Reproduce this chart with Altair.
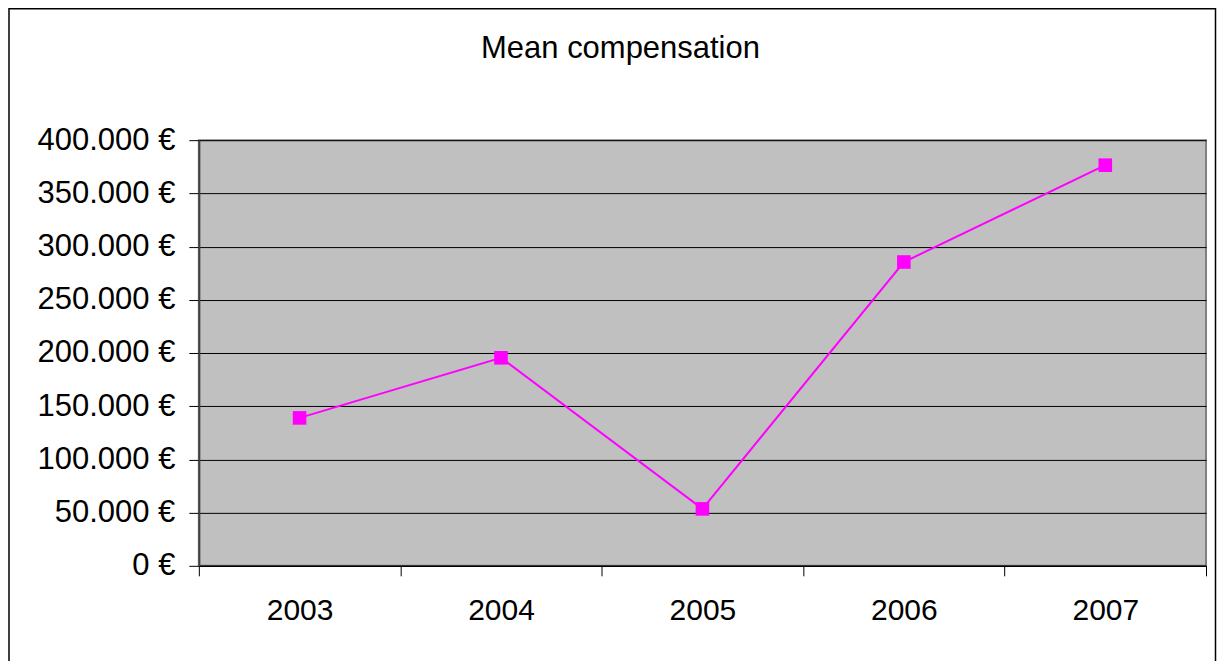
import altair as alt
import pandas as pd

years = [2003, 2004, 2005, 2006, 2007]
compensation = [139000, 195500, 53500, 285500, 376500]
y_ticks = [0, 50000, 100000, 150000, 200000, 250000, 300000, 350000, 400000]
x_ticks = [2002.5, 2003, 2003.5, 2004, 2004.5, 2005, 2005.5, 2006, 2006.5, 2007, 2007.5]

df = pd.DataFrame({"year": years, "value": compensation})

W, H = 1008, 426
PL, PT, PR, PB = 191, 132, 11, 122

x_enc = alt.X(
    "year:Q",
    scale=alt.Scale(domain=[2002.5, 2007.5], nice=False, zero=False),
    axis=alt.Axis(
        title=None, values=x_ticks, grid=False, tickSize=10,
        tickColor="#000000", domainColor="#000000", domainWidth=1.5,
        tickOpacity={"condition": {"test": "datum.value % 1 !== 0", "value": 1}, "value": 0},
        labelExpr="datum.value % 1 === 0 ? format(datum.value, 'd') : ''",
        labelFontSize=30, labelFont="Liberation Sans", labelColor="#000000",
        labelPadding=20, labelBaseline="top", labelFlush=False, labelOverlap=False,
    ),
)
y_enc = alt.Y(
    "value:Q",
    scale=alt.Scale(domain=[0, 400000], nice=False),
    axis=alt.Axis(
        title=None, values=y_ticks, grid=True, gridColor="#000000", gridWidth=1,
        tickSize=10, tickColor="#000000", domainColor="#404040", domainWidth=2,
        labelExpr="replace(format(datum.value, ',d'), ',', '.') + ' €'",
        labelFontSize=31, labelFont="Liberation Sans", labelColor="#000000",
        labelPadding=14, labelFlush=False, labelOverlap=False,
    ),
)

line = alt.Chart(df).mark_line(color="#FF00FF", strokeWidth=2).encode(x=x_enc, y=y_enc)
points = alt.Chart(df).mark_point(
    shape="square", filled=True, color="#FF00FF", size=185, opacity=1
).encode(x="year:Q", y="value:Q")

border = alt.Chart(pd.DataFrame({"a": [0]})).mark_rect(
    fill=None, stroke="#000000", strokeWidth=1.5
).encode(
    x=alt.value(-PL + 1), x2=alt.value(W + PR - 1.5),
    y=alt.value(-PT + 0.5), y2=alt.value(H + PB + 20),
)

chart = alt.layer(border, line, points).properties(
    width=W, height=H,
    title=alt.TitleParams(
        "Mean compensation", fontSize=31, font="Liberation Sans", fontWeight="normal",
        color="#000000", anchor="middle", frame="group", dx=-82, offset=0, dy=81,
        baseline="alphabetic",
    ),
    autosize=alt.AutoSizeParams(type="none"),
    padding={"left": PL, "top": PT, "right": PR, "bottom": PB},
).configure_view(
    fill="#C0C0C0", stroke="#808080", strokeWidth=2
)

chart.save("out.html", embed_options={"renderer": "svg", "actions": False})
